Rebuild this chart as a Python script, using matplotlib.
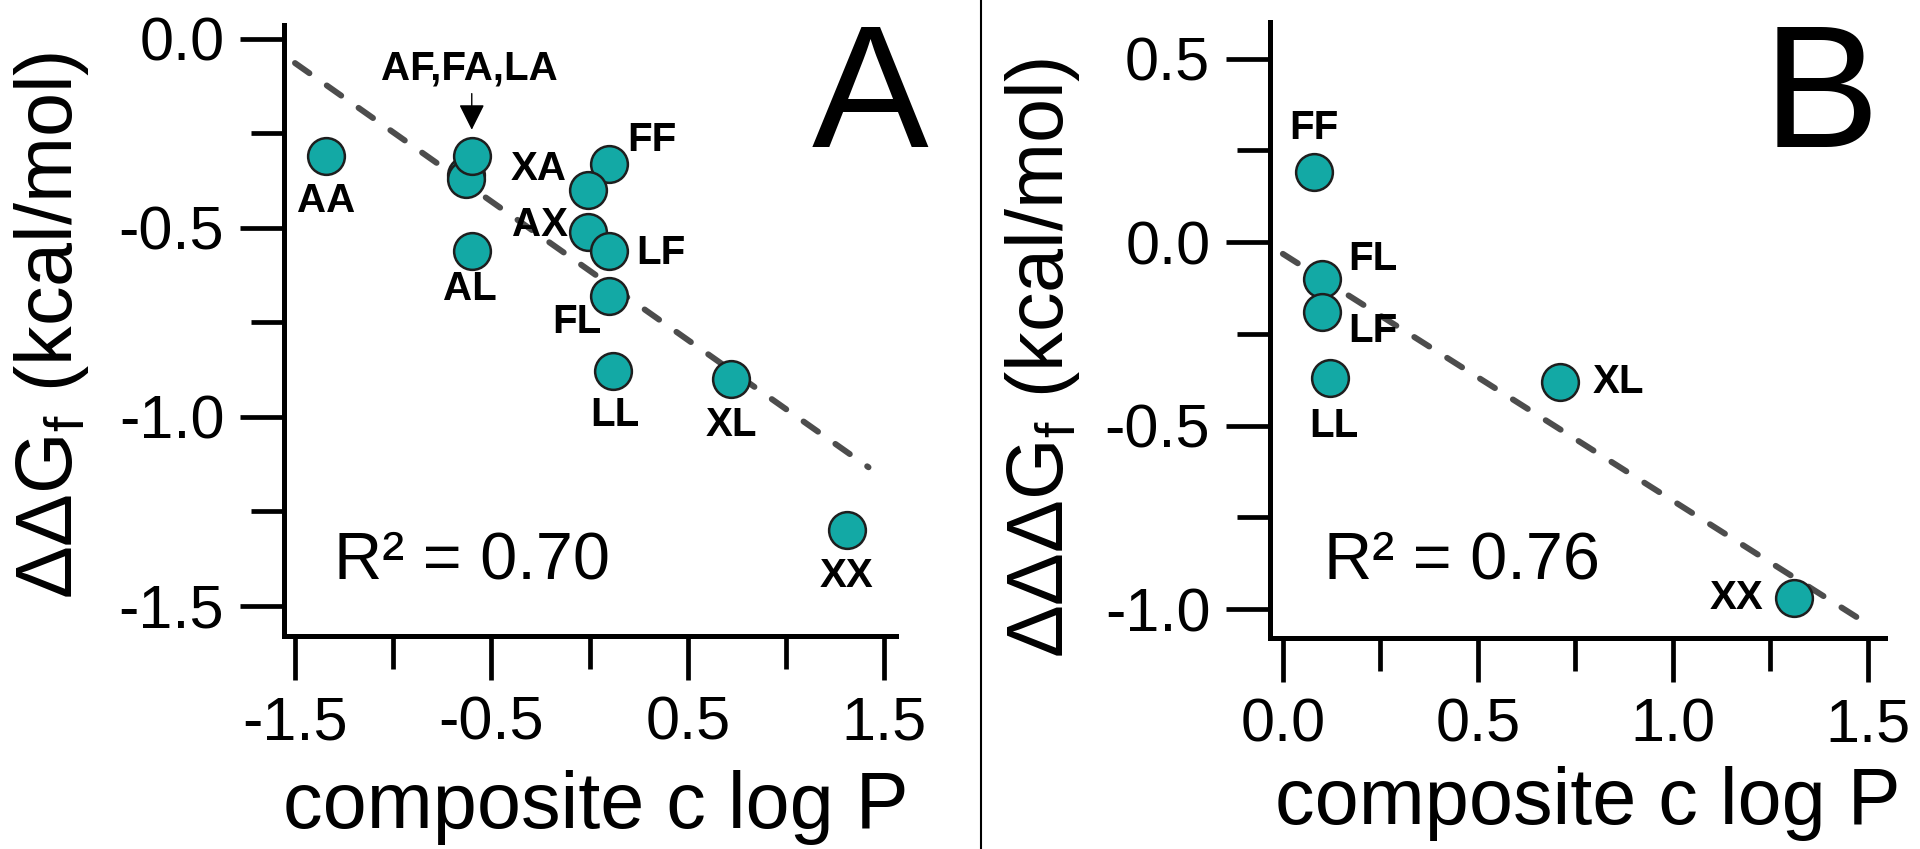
import numpy as np
import matplotlib
matplotlib.use("Agg")
import matplotlib.pyplot as plt
from matplotlib.lines import Line2D

plt.rcParams['font.family'] = ['Liberation Sans', 'DejaVu Sans']
plt.rcParams['mathtext.default'] = 'regular'
plt.rcParams['lines.scale_dashes'] = False

# ---- panel A: dipeptide pairs, composite clogP vs ddG_f (kcal/mol)
pairs_a = ['AA', 'FA', 'LA', 'AF', 'AL', 'FF', 'XA', 'AX', 'LF', 'FL', 'LL', 'XL', 'XX']
clogp_a = [-1.34, -0.63, -0.63, -0.60, -0.60, 0.10, -0.01, -0.01, 0.10, 0.10, 0.12, 0.72, 1.31]
ddg_a = [-0.31, -0.36, -0.37, -0.31, -0.56, -0.33, -0.40, -0.51, -0.56, -0.68, -0.88, -0.90, -1.30]

# ---- panel B: composite clogP vs dddG_f (kcal/mol)
pairs_b = ['FF', 'FL', 'LF', 'LL', 'XL', 'XX']
clogp_b = [0.08, 0.10, 0.10, 0.12, 0.71, 1.31]
dddg_b = [0.19, -0.10, -0.19, -0.37, -0.38, -0.97]

r2_a = '0.70'
r2_b = '0.76'

xticks_a = [-1.5, -0.5, 0.5, 1.5]
xtick_labels_a = ['-1.5', '-0.5', '0.5', '1.5']
yticks_a = [0.0, -0.5, -1.0, -1.5]
ytick_labels_a = ['0.0', '-0.5', '-1.0', '-1.5']

xticks_b = [0.0, 0.5, 1.0, 1.5]
xtick_labels_b = ['0.0', '0.5', '1.0', '1.5']
yticks_b = [0.5, 0.0, -0.5, -1.0]
ytick_labels_b = ['0.5', '0.0', '-0.5', '-1.0']

# label offsets in points (where each name sits relative to its circle)
offsets_a = {'AA': (0, -32), 'AL': (-1, -28), 'XA': (-35, 15), 'AX': (-34, 5),
             'FF': (31, 17), 'LF': (37, -2), 'FL': (-23, -19), 'LL': (1, -31),
             'XL': (0, -33), 'XX': (0, -33)}
offsets_b = {'FF': (0, 32), 'FL': (37, 14), 'LF': (37, -14), 'LL': (3, -35),
             'XL': (42, 0), 'XX': (-41, 0)}

TEAL = '#13A9A5'
EDGE = '#1e1e1e'
LINE_GREY = '#4d4d4d'


def style_axes(ax, xt, xtl, yt, ytl, xlim, ylim):
    for side in ('top', 'right'):
        ax.spines[side].set_visible(False)
    for side in ('left', 'bottom'):
        ax.spines[side].set_linewidth(3.6)
    ax.set_xlim(*xlim)
    ax.set_ylim(*ylim)
    ax.set_xticks(xt)
    ax.set_xticklabels(xtl)
    ax.set_yticks(yt)
    ax.set_yticklabels(ytl)
    # unlabeled ticks halfway between the labeled ones
    ax.set_xticks(np.array(xt[:-1]) + np.diff(xt) / 2, minor=True)
    ax.set_yticks(np.array(yt[:-1]) + np.diff(yt) / 2, minor=True)
    ax.tick_params(which='major', direction='out', length=32, width=3.4,
                   pad=11, labelsize=44, color='black')
    ax.tick_params(which='minor', direction='out', length=24, width=3.4,
                   color='black')


def draw_panel(ax, x, y, names, offsets, fit_range):
    slope, intercept = np.polyfit(x, y, 1)
    xs = np.array(fit_range)
    ax.plot(xs, intercept + slope * xs, color=LINE_GREY, lw=4.3,
            dashes=(12.7, 15.3), dash_capstyle='round', zorder=2)
    for xi, yi in zip(x, y):
        ax.scatter([xi], [yi], s=700, c=TEAL, edgecolors=EDGE,
                   linewidths=1.8, zorder=3)
    for name, xi, yi in zip(names, x, y):
        if name in offsets:
            ax.annotate(name, (xi, yi), xytext=offsets[name],
                        textcoords='offset points', ha='center',
                        va='center', fontsize=29, fontweight='bold',
                        zorder=4)


fig = plt.figure(figsize=(19.2, 8.49), dpi=100)

axA = fig.add_axes([284 / 1920, 1 - 636 / 849, 612 / 1920, 611 / 849])
axB = fig.add_axes([1270 / 1920, 1 - 638 / 849, 615 / 1920, 616 / 849])

style_axes(axA, xticks_a, xtick_labels_a, yticks_a, ytick_labels_a,
           (-1.556, 1.56), (-1.58, 0.037))
style_axes(axB, xticks_b, xtick_labels_b, yticks_b, ytick_labels_b,
           (-0.033, 1.544), (-1.079, 0.6))

draw_panel(axA, clogp_a, ddg_a, pairs_a, offsets_a, (-1.5, 1.42))
draw_panel(axB, clogp_b, dddg_b, pairs_b, offsets_b, (0.0, 1.48))

# grouped label with arrow for the three overlapping points
i_af = pairs_a.index('AF')
axA.annotate('', (clogp_a[i_af], ddg_a[i_af]), xytext=(0, 45),
             textcoords='offset points',
             arrowprops=dict(arrowstyle='-|>,head_length=0.8,head_width=0.4',
                             mutation_scale=20, lw=1.0, color='black',
                             shrinkA=0, shrinkB=19), zorder=4)
axA.annotate('AF,FA,LA', (clogp_a[i_af], ddg_a[i_af]), xytext=(-2, 63),
             textcoords='offset points', ha='center', va='center',
             fontsize=29, fontweight='bold')

# R^2 annotations
axA.text(0.105, -1.429, 'R² = ' + r2_a, ha='right', va='baseline', fontsize=48)
axB.text(0.813, -0.916, 'R² = ' + r2_b, ha='right', va='baseline', fontsize=48)

# axis titles
axA.text(0.51, -0.314, 'composite c log P', transform=axA.transAxes,
         ha='center', va='baseline', fontsize=57)
axB.text(0.517, -0.302, 'composite c log P', transform=axB.transAxes,
         ha='center', va='baseline', fontsize=57)
axA.text(-0.346, 0.509, 'ΔΔG$_{f}$ (kcal/mol)', transform=axA.transAxes,
         rotation=90, rotation_mode='anchor', ha='center', va='baseline',
         fontsize=57)
axB.text(-0.337, 0.455, 'ΔΔΔG$_{f}$ (kcal/mol)', transform=axB.transAxes,
         rotation=90, rotation_mode='anchor', ha='center', va='baseline',
         fontsize=57)

# panel letters
fig.text(870 / 1920, 1 - 147 / 849, 'A', ha='center', va='baseline', fontsize=126)
fig.text(1821 / 1920, 1 - 147 / 849, 'B', ha='center', va='baseline', fontsize=126)

# divider between the panels
fig.add_artist(Line2D([981 / 1920, 981 / 1920], [0, 1],
                      transform=fig.transFigure, color='black', lw=1.5))

fig.savefig('out.png', dpi=100, facecolor='white')
